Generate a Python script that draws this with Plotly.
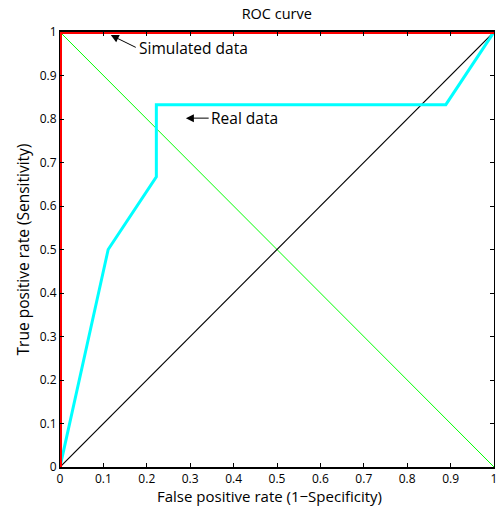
import plotly.graph_objects as go

real_fpr = [0, 0.111, 0.222, 0.222, 0.889, 1.0]
real_tpr = [0, 0.5, 0.667, 0.833, 0.833, 1.0]
sim_fpr = [0, 0, 1]
sim_tpr = [0, 1, 1]
diag_x = [0, 1]
diag_y = [0, 1]
anti_x = [0, 1]
anti_y = [1, 0]
ticks = [i / 10 for i in range(11)]
tick_labels = ["0", "0.1", "0.2", "0.3", "0.4", "0.5", "0.6", "0.7", "0.8", "0.9", "1"]

font = "Open Sans, DejaVu Sans, sans-serif"

fig = go.Figure()
fig.add_trace(go.Scatter(x=anti_x, y=anti_y, mode="lines", line=dict(color="#00ff00", width=1)))
fig.add_trace(go.Scatter(x=diag_x, y=diag_y, mode="lines", line=dict(color="black", width=1.2)))
fig.add_trace(go.Scatter(x=real_fpr, y=real_tpr, mode="lines", line=dict(color="cyan", width=3)))
fig.add_trace(go.Scatter(x=sim_fpr, y=sim_tpr, mode="lines", line=dict(color="red", width=4)))

fig.add_annotation(x=0.117, y=0.993, ax=0.178, ay=0.963, xref="x", yref="y", axref="x", ayref="y",
                   text="", showarrow=True, arrowhead=2, arrowsize=1.6, arrowwidth=1, arrowcolor="black")
fig.add_annotation(x=0.178, y=0.963, xref="x", yref="y", text="Simulated data", showarrow=False,
                   xanchor="left", yanchor="middle", font=dict(size=15.5, color="black", family=font))
fig.add_annotation(x=0.29, y=0.802, ax=0.346, ay=0.802, xref="x", yref="y", axref="x", ayref="y",
                   text="", showarrow=True, arrowhead=2, arrowsize=1.6, arrowwidth=1, arrowcolor="black")
fig.add_annotation(x=0.344, y=0.802, xref="x", yref="y", text="Real data", showarrow=False,
                   xanchor="left", yanchor="middle", font=dict(size=15.5, color="black", family=font))
# x-axis title (placed as annotation to match the reference's slight left offset)
fig.add_annotation(x=0.483, y=-0.066, xref="paper", yref="paper", showarrow=False,
                   text="False positive rate (1\u2212Specificity)", xanchor="center", yanchor="middle",
                   font=dict(size=15, color="black", family=font))

axis_common = dict(range=[0, 1], tickmode="array", tickvals=ticks, ticktext=tick_labels,
                   ticks="inside", ticklen=4, tickcolor="black", showgrid=False, zeroline=False,
                   showline=True, linecolor="black", mirror="ticks", ticklabeloverflow="allow",
                   automargin=False,
                   tickfont=dict(size=12, color="black", family=font))
fig.update_xaxes(**axis_common, linewidth=2)
fig.update_yaxes(**axis_common, linewidth=1,
                 title=dict(text="True positive rate (Sensitivity)", standoff=6,
                            font=dict(size=15.5, color="black", family=font)))

fig.update_layout(
    width=496, height=506,
    margin=dict(l=60, r=2, t=32, b=39),
    plot_bgcolor="white", paper_bgcolor="white",
    showlegend=False,
    title=dict(text="ROC curve", x=0.558, xanchor="center", y=0.972, yanchor="middle",
               font=dict(size=14.5, color="black", family=font)),
)

fig.write_html("out.html", config={"displayModeBar": False},
               post_script="document.body.style.margin='0';document.body.style.overflow='hidden';")
